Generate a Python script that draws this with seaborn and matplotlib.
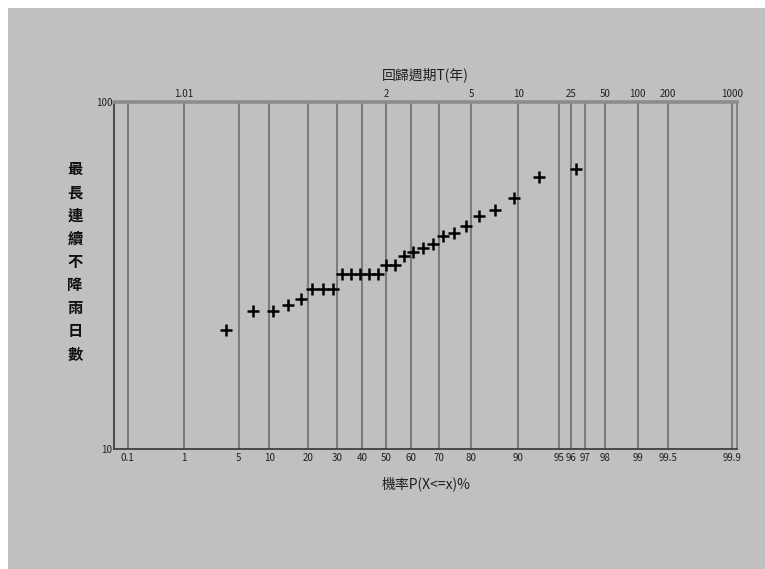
import numpy as np
import matplotlib
matplotlib.use("Agg")
import matplotlib.pyplot as plt
from matplotlib.patches import Rectangle
from matplotlib.ticker import NullLocator
import seaborn as sns
from math import erf

# Datos: días máximos consecutivos sin lluvia
days = [22, 25, 25, 26, 27, 29, 29, 29, 32, 32, 32, 32, 32, 34, 34,
        36, 37, 38, 39, 41, 42, 44, 47, 49, 53, 61, 64]
# probabilidad acumulada (%) de cada punto
prob = [3.6, 7.1, 10.7, 14.3, 17.9, 21.4, 25.0, 28.6, 32.1, 35.7, 39.3, 42.9,
        46.4, 50.0, 53.6, 57.1, 60.7, 64.3, 67.9, 71.4, 75.0, 78.6, 82.1,
        85.7, 89.3, 92.9, 96.4]

prob_ticks = [0.1, 1, 5, 10, 20, 30, 40, 50, 60, 70, 80, 90, 95, 96, 97, 98, 99, 99.5, 99.9]
prob_labels = ["0.1", "1", "5", "10", "20", "30", "40", "50", "60", "70", "80",
               "90", "95", "96", "97", "98", "99", "99.5", "99.9"]
periods = [1.01, 2, 5, 10, 25, 50, 100, 200, 1000]
period_labels = ["1.01", "2", "5", "10", "25", "50", "100", "200", "1000"]

GRAY = "#c0c0c0"
SKEW = 0.28

# escala de probabilidad Pearson III (aprox. Wilson-Hilferty)
_z = np.linspace(-5, 5, 5001)
_p = 50 * (1 + np.array([erf(v / np.sqrt(2)) for v in _z]))


def p_to_k(p):
    z = np.interp(np.asarray(p, dtype=float), _p, _z)
    return 2 / SKEW * ((1 + SKEW * z / 6 - SKEW ** 2 / 36) ** 3 - 1)


def k_to_p(k):
    k = np.asarray(k, dtype=float)
    z = (np.cbrt(k * SKEW / 2 + 1) - 1 + SKEW ** 2 / 36) * 6 / SKEW
    return np.interp(z, _z, _p)


sns.set_theme(style="white")
plt.rcParams["font.family"] = ["Noto Sans CJK TC", "DejaVu Sans"]

fig = plt.figure(figsize=(7.65, 5.69), dpi=100)
fig.patch.set_facecolor("white")
fig.add_artist(Rectangle((8 / 765, 0), 1, 1 - 8 / 569, transform=fig.transFigure,
                         facecolor=GRAY, edgecolor="none", zorder=-10))

ax = fig.add_axes([0.1486, 0.2109, 0.8143, 0.6098])
ax.set_facecolor(GRAY)

sns.scatterplot(x=prob, y=days, marker="+", color="black", s=70,
                linewidth=1.8, ax=ax, zorder=5)

ax.set_xscale("function", functions=(p_to_k, k_to_p))
k_lo, k_hi = p_to_k(0.1), p_to_k(99.9)
span = k_hi - k_lo
xlim = (float(k_to_p(k_lo - 14.1 / 603.9 * span)), float(k_to_p(k_hi + 4.9 / 603.9 * span)))
ax.set_xlim(xlim)
ax.set_xticks(prob_ticks, labels=prob_labels)
ax.xaxis.set_minor_locator(NullLocator())
ax.grid(axis="x", color="#7c7c7c", linewidth=1.5)
ax.grid(axis="y", visible=False)

ax.set_yscale("log")
ax.set_ylim(10, 100)
ax.set_yticks([10, 100], labels=["10", "100"])
ax.yaxis.set_minor_locator(NullLocator())

ax.tick_params(axis="x", length=0, pad=3, labelsize=7, colors="#202020")
ax.tick_params(axis="y", length=0, pad=1, labelsize=7, colors="#202020")
ax.set_xlabel("")
ax.set_ylabel("")

for side in ["left", "bottom"]:
    ax.spines[side].set_color("#404040")
    ax.spines[side].set_linewidth(1.3)
ax.spines["right"].set_color("#7c7c7c")
ax.spines["right"].set_linewidth(1.3)
ax.spines["top"].set_color("#8c8c8c")
ax.spines["top"].set_linewidth(2.6)

# eje superior: periodo de retorno
ax2 = ax.twiny()
ax2.set_xscale("function", functions=(p_to_k, k_to_p))
ax2.set_xlim(xlim)
ax2.set_xticks([100 * (1 - 1 / t) for t in periods], labels=period_labels)
ax2.xaxis.set_minor_locator(NullLocator())
ax2.tick_params(axis="x", length=0, pad=2, labelsize=7, colors="#202020")
for s in ax2.spines.values():
    s.set_visible(False)

fig.text(425 / 765, 1 - 75 / 569, "回歸週期T(年)", ha="center", va="center",
         fontsize=10, color="#202020")
fig.text(426 / 765, 1 - 484 / 569, "機率P(X<=x)%", ha="center", va="center",
         fontsize=10, color="#202020")
fig.text(75 / 765, 1 - 262 / 569, "\n".join("最長連續不降雨日數"), ha="center",
         va="center", fontsize=11, fontweight="bold", linespacing=1.55, color="#101010")

fig.savefig("out.png", dpi=100)
